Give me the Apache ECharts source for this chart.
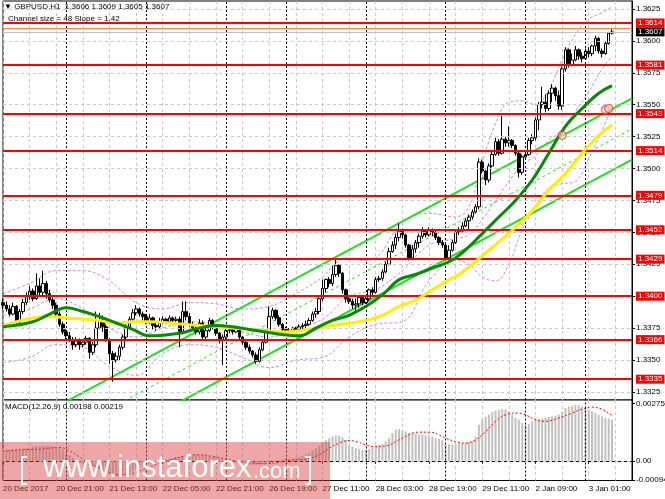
<!DOCTYPE html>
<html><head><meta charset="utf-8">
<script src="https://cdn.jsdelivr.net/npm/echarts@6/dist/echarts.min.js"></script>
<style>html,body{margin:0;padding:0;background:#fff}#c{width:665px;height:499px}</style>
</head><body><div id="c"></div>
<script>
const tickLabels = ['20 Dec 2017','20 Dec 21:00','21 Dec 13:00','22 Dec 05:00','22 Dec 21:00','26 Dec 19:00','27 Dec 11:00','28 Dec 03:00','28 Dec 19:00','29 Dec 11:00','2 Jan 09:00','3 Jan 01:00'];
const priceTicks = [1.3325,1.3350,1.3375,1.3400,1.3425,1.3450,1.3475,1.3500,1.3525,1.3550,1.3575,1.3600,1.3625];
const levels = [1.3614,1.3581,1.3543,1.3514,1.3479,1.3452,1.3429,1.3400,1.3366,1.3335];
const daySeps = [19,43,67,85,109,133,157,175];
const bidPrice = 1.3607;
const askPrice = 1.3610;
const SLOTS = 190;

const opens = [
1.3395,1.3393,1.3390,1.3386,1.3392,1.3380,1.3388,1.3395,1.3400,1.3404,
1.3398,1.3408,1.3403,1.3410,1.3402,1.3397,1.3393,1.3386,1.3378,1.3372,
1.3369,1.3366,1.3362,1.3365,1.3362,1.3364,1.3367,1.3356,1.3362,1.3375,
1.3382,1.3376,1.3366,1.3355,1.3350,1.3353,1.3360,1.3368,1.3376,1.3382,
1.3387,1.3390,1.3386,1.3384,1.3380,1.3383,1.3377,1.3376,1.3380,1.3382,
1.3380,1.3383,1.3381,1.3382,1.3372,1.3388,1.3384,1.3378,1.3375,1.3372,
1.3379,1.3368,1.3373,1.3381,1.3376,1.3371,1.3365,1.3368,1.3373,1.3374,
1.3372,1.3375,1.3368,1.3364,1.3360,1.3357,1.3354,1.3349,1.3358,1.3364,
1.3372,1.3384,1.3389,1.3383,1.3378,1.3374,1.3373,1.3373,1.3375,1.3374,
1.3376,1.3377,1.3378,1.3381,1.3386,1.3388,1.3398,1.3406,1.3413,1.3410,
1.3417,1.3424,1.3418,1.3405,1.3398,1.3396,1.3393,1.3394,1.3399,1.3395,
1.3398,1.3405,1.3403,1.3413,1.3414,1.3419,1.3425,1.3435,1.3440,1.3446,
1.3451,1.3448,1.3440,1.3430,1.3437,1.3442,1.3447,1.3451,1.3448,1.3452,
1.3450,1.3446,1.3442,1.3440,1.3430,1.3436,1.3442,1.3450,1.3451,1.3455,
1.3459,1.3462,1.3466,1.3470,1.3505,1.3498,1.3491,1.3502,1.3511,1.3521,
1.3512,1.3523,1.3520,1.3522,1.3518,1.3512,1.3497,1.3509,1.3511,1.3522,
1.3524,1.3538,1.3550,1.3552,1.3547,1.3559,1.3563,1.3557,1.3549,1.3578,
1.3593,1.3581,1.3585,1.3593,1.3588,1.3586,1.3592,1.3590,1.3596,1.3602,
1.3592,1.3590,1.3598,1.3606];
const closes = [
1.3393,1.3390,1.3386,1.3392,1.3380,1.3388,1.3395,1.3400,1.3404,1.3398,
1.3408,1.3403,1.3410,1.3402,1.3397,1.3393,1.3386,1.3378,1.3372,1.3369,
1.3366,1.3362,1.3365,1.3362,1.3364,1.3367,1.3356,1.3362,1.3375,1.3382,
1.3376,1.3366,1.3355,1.3350,1.3353,1.3360,1.3368,1.3376,1.3382,1.3387,
1.3390,1.3386,1.3384,1.3380,1.3383,1.3377,1.3376,1.3380,1.3382,1.3380,
1.3383,1.3381,1.3382,1.3372,1.3388,1.3384,1.3378,1.3375,1.3372,1.3379,
1.3368,1.3373,1.3381,1.3376,1.3371,1.3365,1.3368,1.3373,1.3374,1.3372,
1.3375,1.3368,1.3364,1.3360,1.3357,1.3354,1.3349,1.3358,1.3364,1.3372,
1.3384,1.3389,1.3383,1.3378,1.3374,1.3373,1.3373,1.3375,1.3374,1.3376,
1.3377,1.3378,1.3381,1.3386,1.3388,1.3398,1.3406,1.3413,1.3410,1.3417,
1.3424,1.3418,1.3405,1.3398,1.3396,1.3393,1.3394,1.3399,1.3395,1.3398,
1.3405,1.3403,1.3413,1.3414,1.3419,1.3425,1.3435,1.3440,1.3446,1.3451,
1.3448,1.3440,1.3430,1.3437,1.3442,1.3447,1.3451,1.3448,1.3452,1.3450,
1.3446,1.3442,1.3440,1.3430,1.3436,1.3442,1.3450,1.3451,1.3455,1.3459,
1.3462,1.3466,1.3470,1.3505,1.3498,1.3491,1.3502,1.3511,1.3521,1.3512,
1.3523,1.3520,1.3522,1.3518,1.3512,1.3497,1.3509,1.3511,1.3522,1.3524,
1.3538,1.3550,1.3552,1.3547,1.3559,1.3563,1.3557,1.3549,1.3578,1.3593,
1.3581,1.3585,1.3593,1.3588,1.3586,1.3592,1.3590,1.3596,1.3602,1.3592,
1.3590,1.3598,1.3606,1.3607];
const highs = [
1.3398,1.3396,1.3393,1.3395,1.3393,1.3390,1.3398,1.3403,1.3408,1.3406,
1.3418,1.3414,1.3420,1.3412,1.3405,1.3399,1.3395,1.3388,1.3380,1.3374,
1.3372,1.3368,1.3368,1.3367,1.3366,1.3369,1.3368,1.3364,1.3388,1.3387,
1.3385,1.3378,1.3367,1.3357,1.3356,1.3362,1.3370,1.3378,1.3384,1.3390,
1.3393,1.3391,1.3388,1.3386,1.3386,1.3384,1.3379,1.3383,1.3384,1.3383,
1.3385,1.3384,1.3384,1.3384,1.3396,1.3396,1.3387,1.3380,1.3378,1.3382,
1.3381,1.3376,1.3383,1.3382,1.3377,1.3372,1.3370,1.3375,1.3376,1.3376,
1.3377,1.3376,1.3369,1.3365,1.3362,1.3358,1.3356,1.3360,1.3366,1.3374,
1.3392,1.3391,1.3390,1.3385,1.3379,1.3376,1.3375,1.3376,1.3376,1.3378,
1.3379,1.3381,1.3383,1.3388,1.3391,1.3400,1.3413,1.3414,1.3415,1.3424,
1.3429,1.3425,1.3419,1.3406,1.3400,1.3398,1.3398,1.3400,1.3401,1.3400,
1.3406,1.3407,1.3415,1.3416,1.3421,1.3427,1.3438,1.3443,1.3449,1.3457,
1.3453,1.3449,1.3441,1.3440,1.3444,1.3449,1.3454,1.3452,1.3454,1.3453,
1.3452,1.3447,1.3444,1.3441,1.3440,1.3444,1.3452,1.3454,1.3458,1.3461,
1.3464,1.3468,1.3472,1.3508,1.3507,1.3499,1.3504,1.3513,1.3524,1.3523,
1.3541,1.3525,1.3533,1.3523,1.3519,1.3513,1.3511,1.3514,1.3524,1.3527,
1.3540,1.3552,1.3564,1.3558,1.3561,1.3566,1.3564,1.3561,1.3580,1.3595,
1.3594,1.3590,1.3596,1.3594,1.3591,1.3594,1.3595,1.3597,1.3604,1.3603,
1.3594,1.3600,1.3607,1.3609];
const lows = [
1.3390,1.3388,1.3384,1.3385,1.3378,1.3378,1.3386,1.3393,1.3397,1.3396,
1.3397,1.3401,1.3400,1.3398,1.3395,1.3390,1.3384,1.3376,1.3370,1.3366,
1.3364,1.3358,1.3360,1.3358,1.3360,1.3362,1.3351,1.3354,1.3360,1.3374,
1.3372,1.3364,1.3347,1.3333,1.3348,1.3350,1.3358,1.3366,1.3374,1.3380,
1.3385,1.3384,1.3381,1.3378,1.3378,1.3374,1.3373,1.3375,1.3378,1.3378,
1.3379,1.3379,1.3380,1.3360,1.3370,1.3381,1.3376,1.3373,1.3370,1.3370,
1.3366,1.3366,1.3372,1.3374,1.3369,1.3363,1.3346,1.3366,1.3371,1.3370,
1.3371,1.3366,1.3362,1.3358,1.3355,1.3352,1.3347,1.3348,1.3357,1.3363,
1.3371,1.3382,1.3381,1.3376,1.3372,1.3371,1.3371,1.3372,1.3372,1.3373,
1.3374,1.3375,1.3377,1.3380,1.3383,1.3386,1.3396,1.3403,1.3407,1.3408,
1.3415,1.3415,1.3402,1.3395,1.3394,1.3390,1.3388,1.3391,1.3393,1.3394,
1.3396,1.3400,1.3402,1.3411,1.3412,1.3418,1.3424,1.3434,1.3437,1.3443,
1.3445,1.3438,1.3428,1.3429,1.3434,1.3438,1.3445,1.3446,1.3447,1.3447,
1.3444,1.3440,1.3438,1.3428,1.3428,1.3435,1.3441,1.3448,1.3450,1.3454,
1.3452,1.3460,1.3465,1.3468,1.3496,1.3487,1.3489,1.3501,1.3510,1.3510,
1.3511,1.3517,1.3517,1.3516,1.3510,1.3493,1.3495,1.3507,1.3510,1.3519,
1.3522,1.3530,1.3547,1.3544,1.3545,1.3552,1.3553,1.3546,1.3546,1.3576,
1.3579,1.3580,1.3584,1.3585,1.3583,1.3585,1.3587,1.3588,1.3592,1.3590,
1.3587,1.3589,1.3597,1.3605];

const maGreen = [[0,1.3376],[9,1.3380],[14,1.3386],[19,1.3391],[24,1.3388],[29,1.3384],[34,1.3379],[39,1.3374],[44,1.3369],[53,1.3371],[59,1.3375],[64,1.3377],[69,1.3376],[74,1.3374],[79,1.3372],[84,1.3370],[89,1.3369],[94,1.3375],[99,1.3381],[104,1.3385],[109,1.3392],[114,1.3401],[119,1.3413],[124,1.3417],[129,1.3422],[134,1.3427],[138,1.3434],[144,1.3449],[149,1.3462],[154,1.3475],[159,1.3491],[164,1.3512],[169,1.3533],[174,1.3547],[179,1.3559],[183,1.3565]];
const maYellow = [[0,1.3377],[9,1.3383],[14,1.3384],[19,1.3383],[29,1.3381],[34,1.3379],[39,1.3380],[44,1.3380],[54,1.3378],[64,1.3376],[74,1.3374],[84,1.3372],[89,1.3373],[94,1.3375],[99,1.3377],[109,1.3381],[114,1.3385],[119,1.3392],[124,1.3397],[129,1.3405],[134,1.3413],[137,1.3417],[146,1.3436],[154,1.3454],[159,1.3467],[164,1.3483],[169,1.3496],[174,1.3512],[179,1.3526],[183,1.3534]];
const bbUpper = [[0,1.3402],[8,1.3410],[16,1.3420],[24,1.3420],[32,1.3412],[40,1.3395],[48,1.3390],[56,1.3395],[64,1.3394],[72,1.3390],[80,1.3392],[88,1.3402],[96,1.3415],[100,1.3426],[104,1.3430],[108,1.3428],[112,1.3430],[120,1.3458],[128,1.3465],[136,1.3462],[140,1.3470],[144,1.3505],[148,1.3535],[152,1.3552],[156,1.3553],[160,1.3550],[164,1.3562],[168,1.3585],[172,1.3605],[176,1.3617],[180,1.3622],[183,1.3627]];
const bbMid = [[0,1.3385],[8,1.3390],[16,1.3398],[24,1.3390],[32,1.3375],[40,1.3368],[48,1.3375],[56,1.3380],[64,1.3378],[72,1.3372],[80,1.3368],[88,1.3375],[96,1.3382],[104,1.3400],[112,1.3405],[120,1.3420],[128,1.3440],[136,1.3445],[140,1.3448],[144,1.3460],[148,1.3475],[152,1.3490],[156,1.3503],[160,1.3510],[164,1.3522],[168,1.3530],[172,1.3545],[176,1.3560],[180,1.3578],[183,1.3588]];
const bbLower = [[0,1.3348],[8,1.3352],[16,1.3362],[24,1.3360],[32,1.3345],[40,1.3338],[48,1.3355],[56,1.3362],[64,1.3360],[72,1.3352],[80,1.3344],[88,1.3350],[96,1.3352],[104,1.3368],[112,1.3378],[120,1.3380],[128,1.3412],[136,1.3428],[140,1.3425],[144,1.3415],[148,1.3412],[152,1.3425],[156,1.3452],[160,1.3470],[164,1.3485],[168,1.3488],[172,1.3490],[176,1.3508],[180,1.3530],[183,1.3548]];
const channelUpper = [[0,1.3291],[189,1.3555]];
const channelMid = [[0,1.3267],[189,1.3531]];
const channelLower = [[0,1.3243],[189,1.3507]];
const markerCircles = [[168,1.3526],[181,1.3546],[182,1.3547]];

const macdHist = [
0.00053,0.00054,0.00053,0.00054,0.00055,0.00056,0.00057,0.00060,0.00064,0.00068,
0.00070,0.00071,0.00072,0.00072,0.00070,0.00068,0.00066,0.00060,0.00053,0.00040,
0.00027,0.00014,0.00002,-0.00010,-0.00016,-0.00020,-0.00024,-0.00028,-0.00035,-0.00041,
-0.00047,-0.00053,-0.00060,-0.00070,-0.00074,-0.00076,-0.00073,-0.00066,-0.00058,-0.00050,
-0.00043,-0.00036,-0.00029,-0.00022,-0.00016,-0.00010,-0.00006,-0.00003,0.00001,0.00005,
0.00009,0.00013,0.00017,0.00019,0.00024,0.00027,0.00030,0.00031,0.00031,0.00030,
0.00027,0.00024,0.00021,0.00018,0.00015,0.00011,0.00007,0.00004,0.00001,-0.00002,
-0.00006,-0.00009,-0.00012,-0.00015,-0.00018,-0.00020,-0.00021,-0.00019,-0.00016,-0.00012,
-0.00007,-0.00002,0.00002,0.00005,0.00008,0.00009,0.00010,0.00012,0.00014,0.00018,
0.00023,0.00030,0.00037,0.00050,0.00062,0.00072,0.00085,0.00098,0.00109,0.00117,
0.00121,0.00121,0.00114,0.00101,0.00077,0.00069,0.00061,0.00056,0.00053,0.00053,
0.00056,0.00064,0.00069,0.00074,0.00080,0.00093,0.00109,0.00133,0.00150,0.00153,
0.00146,0.00141,0.00133,0.00133,0.00129,0.00125,0.00125,0.00122,0.00121,0.00117,
0.00109,0.00105,0.00101,0.00082,0.00079,0.00077,0.00079,0.00082,0.00085,0.00088,
0.00090,0.00095,0.00117,0.00174,0.00198,0.00211,0.00222,0.00235,0.00241,0.00246,
0.00249,0.00246,0.00238,0.00222,0.00206,0.00198,0.00182,0.00174,0.00178,0.00190,
0.00198,0.00201,0.00204,0.00206,0.00211,0.00214,0.00217,0.00222,0.00238,0.00254,
0.00262,0.00265,0.00270,0.00267,0.00262,0.00254,0.00246,0.00238,0.00230,0.00222,
0.00214,0.00206,0.00203,0.00198];
const macdSignal = [[0,0.00045],[5,0.00053],[11,0.00056],[17,0.00064],[20,0.00048],[23,0.00018],[26,-0.00010],[29,-0.00035],[32,-0.00057],[35,-0.00068],[39,-0.00060],[43,-0.00036],[47,-0.00012],[51,0.00008],[55,0.00024],[59,0.00029],[63,0.00021],[67,0.00008],[71,-0.00003],[75,-0.00011],[79,-0.00014],[83,-0.00008],[87,0.00004],[91,0.00008],[95,0.00029],[98,0.00061],[101,0.00085],[104,0.00098],[106,0.00093],[109,0.00077],[111,0.00069],[115,0.00072],[119,0.00101],[121,0.00117],[123,0.00133],[125,0.00138],[129,0.00137],[131,0.00125],[133,0.00109],[137,0.00088],[139,0.00085],[142,0.00101],[145,0.00141],[148,0.00190],[151,0.00222],[155,0.00230],[157,0.00222],[160,0.00198],[163,0.00190],[167,0.00206],[171,0.00230],[174,0.00249],[177,0.00259],[180,0.00249],[182,0.00230],[183,0.00219]];
const macdTicks = [-0.00094, 0, 0.00275];

const FONT = 'Liberation Sans';
const slots = Array.from({length: SLOTS}, (_, i) => i);
const candles = closes.map((c, i) => [opens[i], c, lows[i], highs[i]]);
const grayDash = {color:'#c8c8c8', type:[3,3], width:1};
const sepStyle = {color:'#000', type:[2,2], width:1};

const chart = echarts.init(document.getElementById('c'), null, {renderer:'canvas'});
chart.setOption({
  animation:false,
  backgroundColor:'#fff',
  textStyle:{fontFamily:FONT},
  grid:[
    {left:3, right:33, top:1, height:399, show:true, backgroundColor:'#fff', borderColor:'#000', borderWidth:1, outerBoundsMode:'none'},
    {left:3, right:33, top:400, height:80.5, show:true, backgroundColor:'#fff', borderColor:'#000', borderWidth:1, outerBoundsMode:'none'}
  ],
  xAxis:[
    {type:'category', gridIndex:0, data:slots, boundaryGap:false,
     axisLine:{show:false}, axisTick:{show:false}, axisLabel:{show:false},
     splitLine:{show:true, interval:(i)=>i%8===0, lineStyle:grayDash}},
    {type:'category', gridIndex:1, data:slots, boundaryGap:false,
     axisLine:{show:true, lineStyle:{color:'#000'}},
     axisTick:{show:true, length:3, interval:(i)=>i%16===0, lineStyle:{color:'#000'}},
     axisLabel:{show:true, interval:(i)=>i%16===0 && i/16<tickLabels.length, align:'left', margin:4,
       fontSize:8, color:'#000', fontFamily:FONT, formatter:(v,idx)=>tickLabels[idx/16] || ''},
     splitLine:{show:true, interval:(i)=>i%8===0, lineStyle:grayDash}}
  ],
  yAxis:[
    {type:'value', gridIndex:0, position:'right', min:1.33187, max:1.36312, scale:true,
     axisLine:{show:true, lineStyle:{color:'#000'}},
     axisTick:{show:true, length:3, customValues:priceTicks, lineStyle:{color:'#000'}},
     axisLabel:{show:true, customValues:priceTicks, margin:4, fontSize:8, color:'#000', fontFamily:FONT, formatter:(v)=>v.toFixed(4)},
     splitLine:{show:false}},
    {type:'value', gridIndex:1, position:'right', min:-0.00095, max:0.00293,
     axisLine:{show:true, lineStyle:{color:'#000'}},
     axisTick:{show:true, length:3, customValues:macdTicks, lineStyle:{color:'#000'}},
     axisLabel:{show:true, customValues:macdTicks, margin:4, fontSize:8, color:'#000', fontFamily:FONT, formatter:(v)=>v===0?'0.00':v.toFixed(5)},
     splitLine:{show:false}}
  ],
  series:[
    {type:'line', xAxisIndex:0, yAxisIndex:0, data:[], z:1, silent:true,
     markLine:{silent:true, precision:6, symbol:['none','none'], label:{show:false}, lineStyle:grayDash,
       data: priceTicks.map(v=>({yAxis:v})).concat(daySeps.map(d=>({xAxis:d, lineStyle:sepStyle})))}},
    {name:'bbUpper', type:'line', xAxisIndex:0, yAxisIndex:0, data:bbUpper, smooth:0.4, showSymbol:false, z:2, silent:true,
     lineStyle:{color:'#c08cf0', width:1, type:[3,2]}},
    {name:'bbMid', type:'line', xAxisIndex:0, yAxisIndex:0, data:bbMid, smooth:0.4, showSymbol:false, z:2, silent:true,
     lineStyle:{color:'#c08cf0', width:1, type:[3,2]}},
    {name:'bbLower', type:'line', xAxisIndex:0, yAxisIndex:0, data:bbLower, smooth:0.4, showSymbol:false, z:2, silent:true,
     lineStyle:{color:'#c08cf0', width:1, type:[3,2]}},
    {name:'chUpper', type:'line', xAxisIndex:0, yAxisIndex:0, data:channelUpper, showSymbol:false, z:3, silent:true, clip:true,
     lineStyle:{color:'#22dd22', width:2}},
    {name:'chMid', type:'line', xAxisIndex:0, yAxisIndex:0, data:channelMid, showSymbol:false, z:3, silent:true, clip:true,
     lineStyle:{color:'#22dd22', width:1, type:[3,3]}},
    {name:'chLower', type:'line', xAxisIndex:0, yAxisIndex:0, data:channelLower, showSymbol:false, z:3, silent:true, clip:true,
     lineStyle:{color:'#22dd22', width:2}},
    {name:'price', type:'candlestick', xAxisIndex:0, yAxisIndex:0, data:candles, barWidth:3, z:4, silent:true,
     itemStyle:{color:'#fff', color0:'#000', borderColor:'#000', borderColor0:'#000', borderWidth:1}},
    {name:'maYellow', type:'line', xAxisIndex:0, yAxisIndex:0, data:maYellow, smooth:0.4, showSymbol:false, z:5, silent:true,
     lineStyle:{color:'#ffee00', width:3}},
    {name:'maGreen', type:'line', xAxisIndex:0, yAxisIndex:0, data:maGreen, smooth:0.4, showSymbol:false, z:5, silent:true,
     lineStyle:{color:'#078a07', width:3}},
    {name:'circles', type:'scatter', xAxisIndex:0, yAxisIndex:0, data:markerCircles, symbol:'circle', symbolSize:8, z:6, silent:true,
     itemStyle:{color:'rgba(255,220,220,0.7)', borderColor:'#ff3030', borderWidth:1.2}},
    {type:'line', xAxisIndex:0, yAxisIndex:0, data:[], z:7, silent:true,
     markLine:{silent:true, precision:6, symbol:['none','none'],
       lineStyle:{color:'#ff0000', width:2, type:'solid'},
       label:{show:true, position:'end', distance:4, color:'#fff', backgroundColor:'#ff0000', padding:[0,2,0,2],
         fontSize:8, lineHeight:9, fontFamily:FONT, formatter:(p)=>Number(p.value).toFixed(4)},
       data: [
         {yAxis:askPrice, lineStyle:{color:'#ff8040', width:1}, label:{show:false}},
         {yAxis:bidPrice, lineStyle:{color:'#c0c0c0', width:1}, label:{backgroundColor:'#000'}}
       ].concat(levels.map(v=>({yAxis:v})))}},
    {type:'line', xAxisIndex:1, yAxisIndex:1, data:[], z:1, silent:true,
     markLine:{silent:true, precision:6, symbol:['none','none'], label:{show:false}, lineStyle:grayDash,
       data: [{yAxis:0}].concat(daySeps.map(d=>({xAxis:d, lineStyle:sepStyle})))}},
    {name:'MACD', type:'bar', xAxisIndex:1, yAxisIndex:1, data:macdHist, barWidth:2, z:2, silent:true,
     itemStyle:{color:'#c0c0c0'}},
    {name:'Signal', type:'line', xAxisIndex:1, yAxisIndex:1, data:macdSignal, smooth:0.4, showSymbol:false, z:3, silent:true,
     lineStyle:{color:'#ff0000', width:1, type:[2,2]}}
  ],
  graphic:[
    {type:'text', left:4, top:3, z:50, style:{text:'▼ GBPUSD,H1  1.3606 1.3609 1.3605 1.3607', fill:'#000', font:'8px "Liberation Sans"'}},
    {type:'text', left:8, top:15, z:50, style:{text:'Channel size = 48 Slope = 1.42', fill:'#000', font:'8px "Liberation Sans"'}},
    {type:'text', left:5, top:403, z:50, style:{text:'MACD(12,26,9) 0.00198 0.00219', fill:'#000', font:'8px "Liberation Sans"'}},
    {type:'rect', z:90, shape:{x:0, y:442, width:330, height:57}, style:{fill:'rgba(215,60,60,0.45)'}},
    {type:'polyline', z:91, shape:{points:[[27,457],[22,457],[22,484],[27,484]]}, style:{stroke:'#fff', lineWidth:2, fill:null}},
    {type:'polyline', z:91, shape:{points:[[305,457],[310,457],[310,484],[305,484]]}, style:{stroke:'#fff', lineWidth:2, fill:null}},
    {type:'text', z:91, x:43, y:468.5, style:{text:'www.instaforex', fill:'#fff', font:'31px "Liberation Sans"', verticalAlign:'middle'}},
    {type:'text', z:91, x:253, y:471.5, style:{text:'.com', fill:'#fff', font:'22px "Liberation Sans"', verticalAlign:'middle'}}
  ]
});
</script></body></html>
